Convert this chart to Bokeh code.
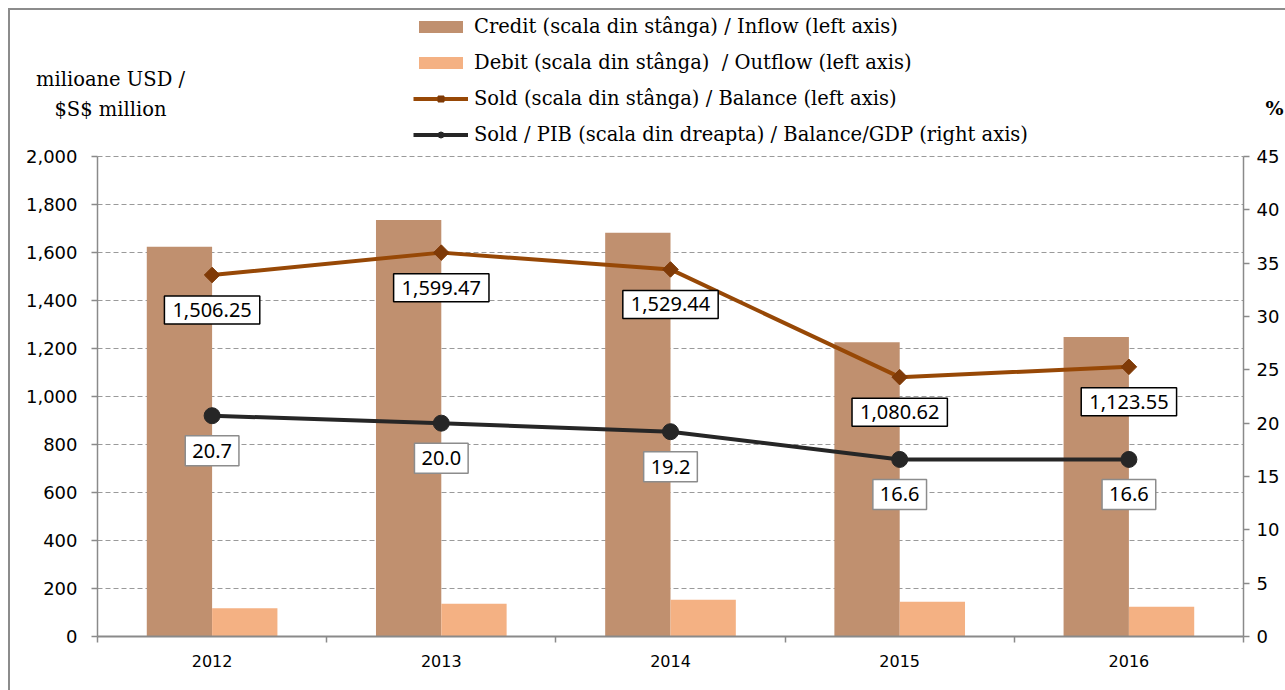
import math
import numpy as np
from bokeh.plotting import figure
from bokeh.models import (Range1d, LinearAxis, FixedTicker, Legend, LegendItem, Label,
                          ColumnDataSource, NumeralTickFormatter)
from bokeh.embed import file_html
from bokeh.resources import INLINE

years = ["2012", "2013", "2014", "2015", "2016"]
credit = [1624.3, 1735.5, 1682.4, 1225.6, 1247.6]
debit = [118.0, 136.0, 153.0, 145.0, 124.0]
balance = [1506.25, 1599.47, 1529.44, 1080.62, 1123.55]
balance_gdp = [20.7, 20.0, 19.2, 16.6, 16.6]
left_ticks = list(range(0, 2001, 200))
right_ticks = list(range(0, 46, 5))
LEFT_MAX, RIGHT_MAX = 2000, 45

SERIF = "DejaVu Serif"
SANS = "DejaVu Sans"
LBL = "Noto Sans"
AXIS_GREY = "#8a8a8a"
GRID_GREY = "#9a9a9a"

# the frame covers the whole canvas; the axes sit at fixed data locations
W, H = 1285, 690
PL, PR, PT, PB = 97, 1243, 156, 636      # pixel box of the value area
NX = len(years)
XS = (PR - PL) / NX                       # px per category
YS = (PB - PT) / LEFT_MAX                 # px per USD million

def px_to_x(px):
    return (px - PL) / XS

def py_to_y(py):
    return (PB - py) / YS

xc = np.arange(NX) + 0.5
bw = 0.285
src = ColumnDataSource(dict(x=xc, xl=xc - bw / 2, xr=xc + bw / 2,
                            credit=credit, debit=debit, balance=balance, gdp=balance_gdp))
grid_src = ColumnDataSource(dict(y=left_ticks[1:], x0=[0] * (len(left_ticks) - 1),
                                 x1=[NX] * (len(left_ticks) - 1)))

p = figure(x_range=Range1d(px_to_x(0), px_to_x(W)),
           y_range=Range1d(py_to_y(H), py_to_y(0)),
           frame_width=W, frame_height=H,
           min_border_left=0, min_border_right=0, min_border_top=0, min_border_bottom=0,
           output_backend="svg", toolbar_location=None)
k = RIGHT_MAX / LEFT_MAX
p.extra_y_ranges = {"pct": Range1d(py_to_y(H) * k, py_to_y(0) * k)}
p.outline_line_color = None
p.background_fill_color = None
p.border_fill_color = None
p.styles = {
    "background": ("linear-gradient(#8c8c8c, #8c8c8c) 8px 8px / 2px calc(100% - 8px) no-repeat, "
                   "linear-gradient(#8c8c8c, #8c8c8c) 8px 8px / calc(100% - 8px) 2px no-repeat, "
                   "#ffffff"),
}
p.xgrid.visible = False
p.ygrid.visible = False

# axes
xa = p.xaxis[0]
xa.fixed_location = 0
xa.bounds = (0, NX)
xa.ticker = FixedTicker(ticks=list(xc), minor_ticks=list(range(NX + 1)))
xa.major_label_overrides = {float(x): y for x, y in zip(xc, years)}
xa.major_tick_line_color = None
xa.major_tick_out = 0
xa.major_tick_in = 0
xa.minor_tick_out = 6
xa.minor_tick_in = 0
xa.minor_tick_line_color = AXIS_GREY
xa.minor_tick_line_width = 1.5
xa.axis_line_color = AXIS_GREY
xa.axis_line_width = 2
xa.major_label_standoff = 12
xa.major_label_text_font = SANS
xa.major_label_text_font_size = "16px"
xa.major_label_text_color = "black"

ya = p.yaxis[0]
ya.fixed_location = 0
ya.bounds = (0, LEFT_MAX)
ya.ticker = FixedTicker(ticks=left_ticks)
ya.formatter = NumeralTickFormatter(format="0,0")
ya.minor_tick_line_color = None
ya.major_tick_out = 6
ya.major_tick_in = 0
ya.major_tick_line_color = AXIS_GREY
ya.major_tick_line_width = 1.5
ya.axis_line_color = AXIS_GREY
ya.axis_line_width = 1.5
ya.major_label_standoff = 14
ya.major_label_text_font = SANS
ya.major_label_text_font_size = "18px"
ya.major_label_text_color = "black"

ra = LinearAxis(y_range_name="pct", ticker=FixedTicker(ticks=right_ticks),
                bounds=(0, RIGHT_MAX), fixed_location=NX)
ra.minor_tick_line_color = None
ra.major_tick_out = 6
ra.major_tick_in = 0
ra.major_tick_line_color = AXIS_GREY
ra.major_tick_line_width = 1.5
ra.axis_line_color = AXIS_GREY
ra.axis_line_width = 1.5
ra.major_label_standoff = 7
ra.major_label_text_font = SANS
ra.major_label_text_font_size = "18px"
ra.major_label_text_color = "black"
p.add_layout(ra, "right")

# dashed horizontal gridlines at the left-axis ticks
p.segment(x0="x0", x1="x1", y0="y", y1="y", source=grid_src, level="underlay",
          line_color=GRID_GREY, line_dash="5 3", line_width=1)

r_credit = p.vbar(x="xl", width=bw, top="credit", bottom=0, source=src,
                  fill_color="#c0906f", line_color=None)
r_debit = p.vbar(x="xr", width=bw, top="debit", bottom=0, source=src,
                 fill_color="#f4b183", line_color=None)

r_bl = p.line(x="x", y="balance", source=src, line_color="#974806", line_width=4)
r_bm = p.scatter(x="x", y="balance", source=src, marker="square", angle=math.pi / 4,
                 size=11, fill_color="#7f3a07", line_color="#7f3a07")

r_gl = p.line(x="x", y="gdp", source=src, y_range_name="pct", line_color="#262626", line_width=4)
r_gm = p.scatter(x="x", y="gdp", source=src, y_range_name="pct", marker="circle",
                 size=16, fill_color="#262626", line_color="#262626")

# data labels
for x, v in zip(xc, balance):
    p.add_layout(Label(x=x, y=v, text=f"{v:,.2f}", y_offset=-35,
                       text_align="center", text_baseline="middle",
                       text_font=LBL, text_font_size="20px", text_color="black",
                       background_fill_color="white", border_line_color="black",
                       border_line_width=1.5, padding=(8, 7)))
for x, v in zip(xc, balance_gdp):
    p.add_layout(Label(x=x, y=v, y_range_name="pct", text=f"{v:.1f}", y_offset=-35,
                       text_align="center", text_baseline="middle",
                       text_font=LBL, text_font_size="20px", text_color="black",
                       background_fill_color="white", border_line_color="#8c8c8c",
                       border_line_width=1.5, padding=(7, 8)))

legend = Legend(items=[
    LegendItem(label="Credit (scala din stânga) / Inflow (left axis)", renderers=[r_credit]),
    LegendItem(label="Debit (scala din stânga)  / Outflow (left axis)", renderers=[r_debit]),
    LegendItem(label="Sold (scala din stânga) / Balance (left axis)", renderers=[r_bl, r_bm]),
    LegendItem(label="Sold / PIB (scala din dreapta) / Balance/GDP (right axis)", renderers=[r_gl, r_gm]),
], location=(413, 544), orientation="vertical", glyph_width=55, glyph_height=15,
    label_standoff=6, padding=0, margin=0, spacing=12, label_height=24,
    border_line_color=None, background_fill_alpha=0,
    label_text_font=SERIF, label_text_font_size="19.5px", label_text_color="black")
p.add_layout(legend)

p.add_layout(Label(x=px_to_x(110), y=py_to_y(67),
                   text="milioane USD /\n$S$ million", text_align="center", text_baseline="top",
                   text_font=SERIF, text_font_size="19.5px", text_line_height=1.33,
                   text_color="black"))
p.add_layout(Label(x=px_to_x(1274), y=py_to_y(107), text="%",
                   text_align="center", text_baseline="middle", text_font=SERIF,
                   text_font_size="19px", text_font_style="bold", text_color="black"))

open("out.html", "w").write(file_html(p, INLINE))
